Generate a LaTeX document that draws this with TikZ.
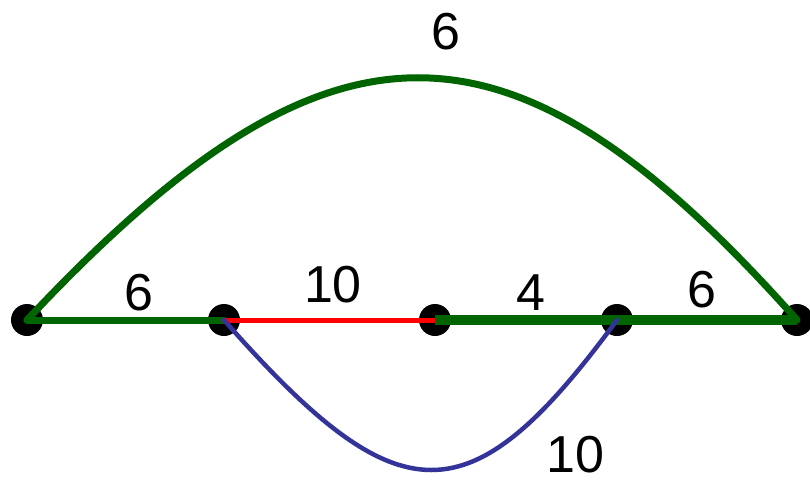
\documentclass[tikz,border=0pt]{standalone}
\usepackage{fontspec}
\setmainfont{Liberation Sans}
\definecolor{dgreen}{RGB}{0,100,0}
\definecolor{dblue}{RGB}{51,51,153}
\begin{document}
\begin{tikzpicture}[x=1pt,y=-1pt,
  vert/.style={circle,fill=black,inner sep=0pt,minimum size=32pt},
  lab/.style={inner sep=0pt,font=\fontsize{52}{52}\selectfont},
  line cap=round]
\useasboundingbox (0,0) rectangle (810,484);
\node[vert] (a) at (27,320) {};
\node[vert] (b) at (224,320) {};
\node[vert] (c) at (435,320) {};
\node[vert] (d) at (617,320) {};
\node[vert] (e) at (797,320) {};
\draw[dgreen,line width=7pt] (a.center) .. controls (330,-3) and (510,-3) .. (e.center);
\draw[dgreen,line width=7pt] (a.center) -- (b.center);
\draw[red,line width=5pt] (b.center) -- (c.center);
\draw[dgreen,line width=10pt,line cap=butt] (c.center) -- (d.center);
\draw[dgreen,line width=10pt,line cap=butt] (d.center) -- (e.center);
\draw[dblue,line width=4.5pt] (b.center) .. controls (400,520) and (470,520) .. (d.center);
\node[lab] (l1) at (446,32) {6};
\node[lab] (l2) at (139,293) {6};
\node[lab] (l3) at (333,285) {10};
\node[lab] (l4) at (531,293) {4};
\node[lab] (l5) at (702,290) {6};
\node[lab] (l6) at (575,455) {10};
\end{tikzpicture}
\end{document}
